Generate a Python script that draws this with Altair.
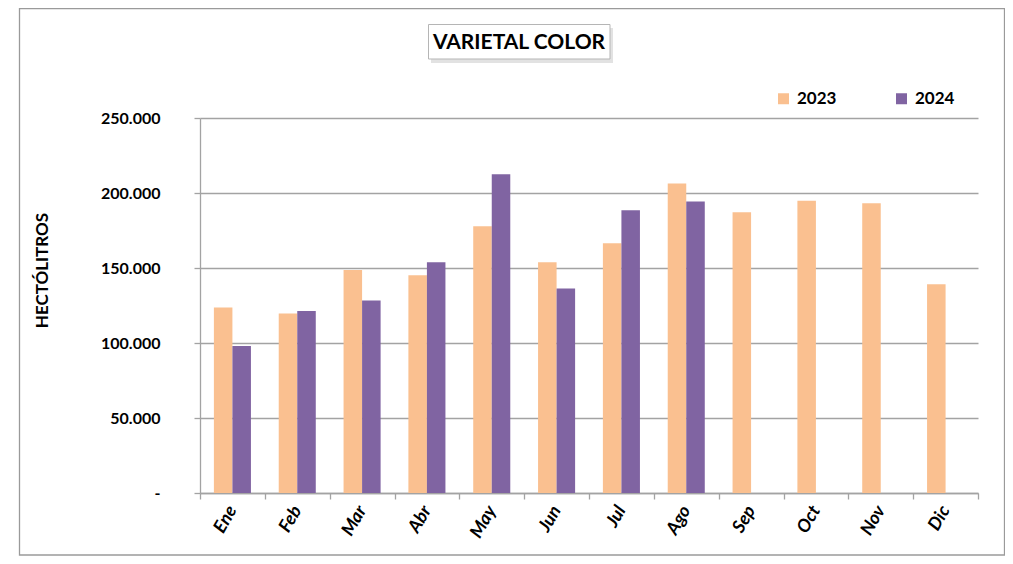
import altair as alt
import pandas as pd

months = ["Ene", "Feb", "Mar", "Abr", "May", "Jun", "Jul", "Ago", "Sep", "Oct", "Nov", "Dic"]
v2023 = [123600, 119600, 148700, 145100, 177800, 153800, 166500, 206300, 187100, 194900, 193100, 139100]
v2024 = [98000, 121300, 128300, 153800, 212500, 136300, 188500, 194300]
years = ["2023", "2024"]
colors = ["#FAC090", "#8064A2"]
y_ticks = [0, 50000, 100000, 150000, 200000, 250000]

rows = []
for m, v in zip(months, v2023):
    rows.append({"mes": m, "anio": "2023", "hl": v})
for m, v in zip(months, v2024):
    rows.append({"mes": m, "anio": "2024", "hl": v})
df = pd.DataFrame(rows)

FONT = "Lato"
GRAY = "#a3a3a3"

bars = alt.Chart(df).mark_bar().encode(
    x=alt.X(
        "mes:N",
        sort=months,
        scale=alt.Scale(paddingInner=0, paddingOuter=0),
        axis=alt.Axis(
            title=None,
            tickBand="extent",
            labelAngle=300,
            labelAlign="right",
            labelBaseline="middle",
            labelFont=FONT,
            labelFontSize=18,
            labelFontWeight="bold",
            labelFontStyle="italic",
            labelColor="#000000",
            labelPadding=8,
            domainColor=GRAY,
            domainWidth=1.3,
            tickColor=GRAY,
            tickWidth=1.3,
            tickSize=6,
            grid=False,
        ),
    ),
    xOffset=alt.XOffset("anio:N", sort=years, scale=alt.Scale(paddingInner=0, paddingOuter=0.75)),
    y=alt.Y(
        "hl:Q",
        scale=alt.Scale(domain=[0, 250000], nice=False),
        axis=alt.Axis(
            title="HECTÓLITROS",
            titleFont=FONT,
            titleFontSize=17,
            titleFontWeight="bold",
            titleColor="#000000",
            titleAngle=270,
            titleX=-158,
            titleY=152,
            titleAlign="center",
            titleBaseline="middle",
            values=y_ticks,
            labelExpr="datum.value == 0 ? '-' : format(datum.value / 1000, ',.0f') + '.000'",
            labelFont=FONT,
            labelFontSize=16,
            labelFontWeight="bold",
            labelColor="#000000",
            labelPadding=34,
            tickSize=6,
            tickColor=GRAY,
            tickWidth=1.3,
            domainColor=GRAY,
            domainWidth=1.3,
            gridColor=GRAY,
            gridWidth=1.3,
        ),
    ),
    color=alt.Color(
        "anio:N",
        sort=years,
        scale=alt.Scale(domain=years, range=colors),
        legend=alt.Legend(
            title=None,
            orient="none",
            legendX=575,
            legendY=-28,
            direction="horizontal",
            symbolType="square",
            symbolSize=121,
            symbolStrokeWidth=0,
            labelFont=FONT,
            labelFontSize=17,
            labelFontWeight="bold",
            labelColor="#000000",
            labelOffset=5,
            columnPadding=56,
            padding=0,
        ),
    ),
)

one = pd.DataFrame({"k": [0]})

frame = alt.Chart(one).mark_rect(fill="transparent", stroke="#9a9a9a", strokeWidth=1.3).encode(
    x=alt.value(-180.5), x2=alt.value(804.5), y=alt.value(-109.5), y2=alt.value(437)
)
shadow = alt.Chart(one).mark_rect(fill="#d6d6d6", opacity=0.7).encode(
    x=alt.value(231), x2=alt.value(413), y=alt.value(-90), y2=alt.value(-55)
)
title_box = alt.Chart(one).mark_rect(fill="white", stroke="#b5b5b5", strokeWidth=1).encode(
    x=alt.value(228.5), x2=alt.value(410), y=alt.value(-93.5), y2=alt.value(-59)
)
title_text = alt.Chart(one).mark_text(
    text="VARIETAL COLOR", font=FONT, fontSize=21, fontWeight="bold", color="#000000",
    align="center", baseline="middle"
).encode(x=alt.value(319), y=alt.value(-75))

chart = alt.layer(frame, shadow, title_box, title_text, bars).properties(
    width=778,
    height=375,
    autosize=alt.AutoSizeParams(type="none"),
    padding={"left": 192, "top": 110, "right": 27, "bottom": 63},
    background="white",
).configure_view(stroke=None)

chart.save("out.html", embed_options={"renderer": "svg", "actions": False})
